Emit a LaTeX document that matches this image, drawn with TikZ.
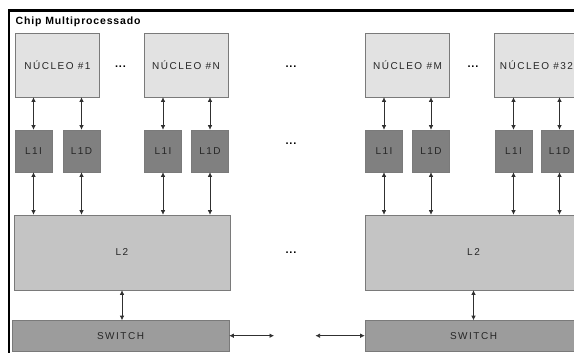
\documentclass[tikz,border=0pt]{standalone}
\usepackage{fontspec}
\setmainfont{Liberation Sans}
\usetikzlibrary{arrows.meta}
\newfontfamily\spaced[LetterSpace=15]{Liberation Sans}
\newfontfamily\spacedbold[LetterSpace=8]{Liberation Sans Bold}
\definecolor{nucfill}{HTML}{E2E2E2}
\definecolor{l1fill}{HTML}{808080}
\definecolor{l2fill}{HTML}{C4C4C4}
\definecolor{swfill}{HTML}{9C9C9C}
\definecolor{edge}{HTML}{7A7A7A}
\definecolor{arr}{HTML}{303030}
\begin{document}
\begin{tikzpicture}[x=1pt,y=-1pt,
  box/.style={draw=edge,line width=0.6pt,inner sep=0pt},
  lbl/.style={font=\spaced\fontsize{10}{12}\selectfont,text=black!85},
  nucbox/.style={box,lbl,fill=nucfill,minimum width=84pt,minimum height=64pt},
  l1box/.style={box,lbl,fill=l1fill,minimum width=37pt,minimum height=42pt},
  l2box/.style={box,lbl,fill=l2fill,minimum width=216pt,minimum height=75pt},
  swbox/.style={box,lbl,fill=swfill,minimum width=217pt,minimum height=31pt},
  dots/.style={inner sep=0pt,font=\spacedbold\fontsize{11}{12}\selectfont},
  link/.style={draw=arr,line width=0.6pt,{Latex[length=4.5pt,width=4.5pt]}-{Latex[length=4.5pt,width=4.5pt]}}]
\useasboundingbox (0,0) rectangle (574,353);
\fill[white] (0,0) rectangle (574,353);
% frame
\draw[line width=2.5pt] (9,353) -- (9,10.5) -- (575,10.5);
\node[anchor=west,inner sep=0pt,font=\spacedbold\fontsize{10.5}{12}\selectfont] (title) at (15.5,21.5) {Chip Multiprocessado};
% nucleos
\node[nucbox] (n1) at (57.5,65) {NÚCLEO \#1};
\node[nucbox] (nN) at (186,65) {NÚCLEO \#N};
\node[nucbox] (nM) at (407.5,65) {NÚCLEO \#M};
\node[nucbox] (n32) at (536.5,65) {NÚCLEO \#32};
% dots
\node[dots] (d1) at (120.5,67) {...};
\node[dots] (d2) at (291,67) {...};
\node[dots] (d3) at (473,67) {...};
\node[dots] (d4) at (291,144) {...};
\node[dots] (d5) at (291,253) {...};
% L1
\node[l1box] (a1) at (33.5,151) {L1I};
\node[l1box] (b1) at (81.5,151) {L1D};
\node[l1box] (a2) at (163,151) {L1I};
\node[l1box] (b2) at (210,151) {L1D};
\node[l1box] (a3) at (384,151) {L1I};
\node[l1box] (b3) at (431,151) {L1D};
\node[l1box] (a4) at (513.5,151) {L1I};
\node[l1box] (b4) at (559.5,151) {L1D};
% L2
\node[l2box] (l2a) at (122,252.5) {L2};
\node[l2box] (l2b) at (473.5,252.5) {L2};
% switches
\node[swbox] (swa) at (120.5,336) {SWITCH};
\node[swbox] (swb) at (473.5,336) {SWITCH};
% links nucleo - L1
\foreach \n/\a/\b in {n1/a1/b1,nN/a2/b2,nM/a3/b3,n32/a4/b4}{
  \draw[link] (\n.south -| \a) -- (\a.north);
  \draw[link] (\n.south -| \b) -- (\b.north);
}
% links L1 - L2
\foreach \a in {a1,b1,a2,b2}{\draw[link] (\a.south) -- (\a.south |- l2a.north);}
\foreach \a in {a3,b3,a4,b4}{\draw[link] (\a.south) -- (\a.south |- l2b.north);}
% L2 - switch
\draw[link] (l2a.south) -- (l2a.south |- swa.north);
\draw[link] (l2b.south) -- (l2b.south |- swb.north);
% horizontal
\coordinate (ea) at (274,335.7);
\coordinate (eb) at (315.5,335.7);
\draw[link] (swa.east |- ea) -- (ea);
\draw[link] (eb) -- (swb.west |- eb);
\end{tikzpicture}
\end{document}
